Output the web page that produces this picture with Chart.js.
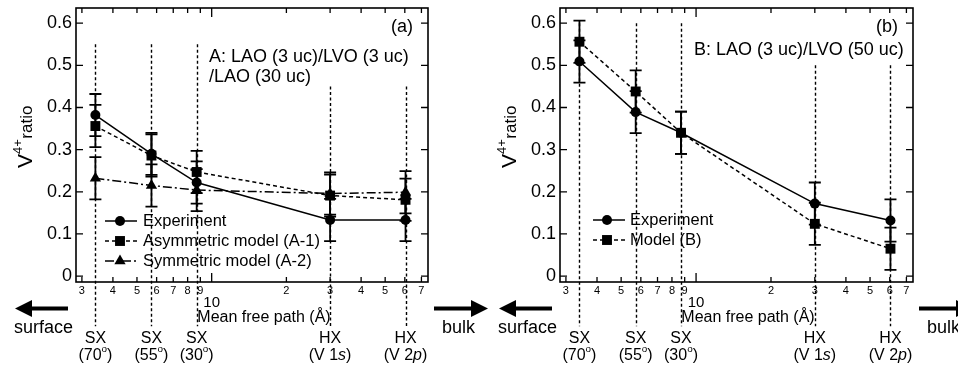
<!DOCTYPE html>
<html><head><meta charset="utf-8">
<script src="https://cdn.jsdelivr.net/npm/chart.js@4.4.0/dist/chart.umd.min.js"></script>
<style>
html,body{margin:0;padding:0;background:#fff;overflow:hidden;width:958px;height:373px;}
#wrap{position:relative;width:958px;height:373px;}
canvas{position:absolute;top:0;}
#ca{left:0}
#cb{left:484px}
</style></head><body>
<div id="wrap"><canvas id="ca" width="500" height="373"></canvas><canvas id="cb" width="474" height="373"></canvas></div>
<script>
// ---------- data ----------
const mfp = [3.4, 5.72, 8.7, 30, 60.4];            // mean free path (Å)
const xTickValues = [3,4,5,6,7,8,9,10,20,30,40,50,60,70];
const xTickLabels = ['3','4','5','6','7','8','9','10','2','3','4','5','6','7'];
const yTickValues = [0,0.1,0.2,0.3,0.4,0.5,0.6];
const probeTop = ['SX','SX','SX','HX','HX'];
const probeBottom = [
  [['(70',''],['o','sup'],[')','']],
  [['(55',''],['o','sup'],[')','']],
  [['(30',''],['o','sup'],[')','']],
  [['(V 1',''],['s','it'],[')','']],
  [['(V 2',''],['p','it'],[')','']]
];
// panel (a)
const expA   = [0.382, 0.290, 0.222, 0.133, 0.133];
const errExpA = [0.05, 0.05, 0.05, 0.05, 0.05];
const asymA  = [0.356, 0.286, 0.247, 0.191, 0.181];
const errAsymA = [0.05, 0.05, 0.05, 0.05, 0.05];
const symA   = [0.232, 0.215, 0.204, 0.196, 0.199];
const errSymA = [0.05, 0.05, 0.05, 0.05, 0.05];
const guideTopA = [0.55, 0.55, 0.55, 0.45, 0.45];
// panel (b)
const expB   = [0.509, 0.389, 0.340, 0.172, 0.132];
const errExpB = [0.05, 0.05, 0.05, 0.05, 0.05];
const modB   = [0.556, 0.438, 0.340, 0.124, 0.065];
const errModB = [0.05, 0.05, 0.05, 0.05, 0.05];
const guideTopB = [0.6, 0.6, 0.6, 0.5, 0.5];
const guideBottom = -0.119;

// ---------- helpers ----------
const FAM = "'Liberation Sans', Arial, Helvetica, sans-serif";
Chart.defaults.font.family = FAM;
Chart.defaults.color = '#000';
function F(size, italic){ return (italic ? 'italic ' : '') + size + 'px ' + FAM; }

function drawSegs(ctx, segs, cx, cy, size){
  let total = 0;
  const parts = segs.map(([t, s]) => {
    const sz = s === 'sup' ? size * 0.62 : size;
    ctx.font = F(sz, s === 'it');
    const w = ctx.measureText(t).width; total += w;
    return {t, s, sz, w};
  });
  let x = cx - total / 2;
  ctx.textAlign = 'left'; ctx.textBaseline = 'middle';
  for (const p of parts){
    ctx.font = F(p.sz, p.s === 'it');
    ctx.fillText(p.t, x, p.s === 'sup' ? cy - size * 0.42 : cy);
    x += p.w;
  }
}

function marker(ctx, style, x, y, r){
  ctx.beginPath();
  if (style === 'circle'){ ctx.arc(x, y, r, 0, Math.PI * 2); }
  else if (style === 'rect'){ const s = r * Math.SQRT1_2; ctx.rect(x - s, y - s, 2 * s, 2 * s); }
  else if (style === 'triangle'){
    for (let k = 0; k < 3; k++){
      const a = k * 2 * Math.PI / 3;
      const px = x + Math.sin(a) * r, py = y - Math.cos(a) * r;
      k ? ctx.lineTo(px, py) : ctx.moveTo(px, py);
    }
    ctx.closePath();
  }
  ctx.fill();
}

function arrow(ctx, tail, tip, y){
  const dir = Math.sign(tip - tail);
  ctx.save();
  ctx.strokeStyle = '#000'; ctx.fillStyle = '#000'; ctx.lineWidth = 4; ctx.setLineDash([]);
  ctx.beginPath(); ctx.moveTo(tail, y); ctx.lineTo(tip - dir * 14, y); ctx.stroke();
  ctx.beginPath(); ctx.moveTo(tip, y); ctx.lineTo(tip - dir * 17, y - 8.5); ctx.lineTo(tip - dir * 17, y + 8.5); ctx.closePath(); ctx.fill();
  ctx.restore();
}

// ---------- plugins ----------
const guides = {
  id: 'guides',
  beforeDatasetsDraw(chart){
    const o = chart.options.plugins.deco; const ctx = chart.ctx;
    const xs = chart.scales.x, ys = chart.scales.y;
    ctx.save(); ctx.strokeStyle = '#000'; ctx.lineWidth = 1.4; ctx.setLineDash([3, 2.5]);
    mfp.forEach((v, i) => {
      const x = Math.round(xs.getPixelForValue(v)) + 0.5;
      ctx.beginPath(); ctx.moveTo(x, ys.getPixelForValue(o.guideTop[i])); ctx.lineTo(x, ys.getPixelForValue(guideBottom)); ctx.stroke();
    });
    ctx.restore();
  }
};

const errorBars = {
  id: 'errorBars',
  afterDatasetsDraw(chart){
    const ctx = chart.ctx; const xs = chart.scales.x, ys = chart.scales.y;
    ctx.save(); ctx.strokeStyle = '#000'; ctx.lineWidth = 1.8; ctx.setLineDash([]);
    chart.data.datasets.forEach(ds => {
      if (!ds.err) return;
      ds.data.forEach((p, j) => {
        const x = xs.getPixelForValue(p.x);
        const y1 = ys.getPixelForValue(p.y - ds.err[j]), y2 = ys.getPixelForValue(p.y + ds.err[j]);
        ctx.beginPath();
        ctx.moveTo(x, y1); ctx.lineTo(x, y2);
        ctx.moveTo(x - 6, y1); ctx.lineTo(x + 6, y1);
        ctx.moveTo(x - 6, y2); ctx.lineTo(x + 6, y2);
        ctx.stroke();
      });
    });
    ctx.restore();
  }
};

const deco = {
  id: 'deco',
  afterDraw(chart, args, o){
    const ctx = chart.ctx; const a = chart.chartArea;
    const xs = chart.scales.x, ys = chart.scales.y;
    ctx.save();
    ctx.fillStyle = '#000'; ctx.strokeStyle = '#000'; ctx.setLineDash([]);
    // frame
    ctx.lineWidth = 1.6;
    ctx.strokeRect(a.left, a.top, a.right - a.left, a.bottom - a.top);
    // ticks (inward)
    ctx.lineWidth = 1.3;
    ctx.beginPath();
    xTickValues.forEach(v => {
      const x = xs.getPixelForValue(v); const len = v === 10 ? 9 : 5;
      ctx.moveTo(x, a.bottom); ctx.lineTo(x, a.bottom - len);
      ctx.moveTo(x, a.top); ctx.lineTo(x, a.top + len);
    });
    yTickValues.forEach(v => {
      const y = ys.getPixelForValue(v);
      ctx.moveTo(a.left, y); ctx.lineTo(a.left + 7, y);
      ctx.moveTo(a.right, y); ctx.lineTo(a.right - 7, y);
    });
    ctx.stroke();

    // y-axis title  V^{4+} ratio
    ctx.save();
    ctx.translate(31.5, 168); ctx.rotate(-Math.PI / 2);
    ctx.textAlign = 'left'; ctx.textBaseline = 'alphabetic';
    ctx.font = F(21); ctx.fillText('V', 0, 0); let w = ctx.measureText('V').width;
    ctx.font = F(13); ctx.fillText('4+', w, -10); w += ctx.measureText('4+').width;
    ctx.font = F(17); ctx.fillText('ratio', w + 0.5, 0);
    ctx.restore();

    // panel label and sample description
    ctx.font = F(18); ctx.textBaseline = 'middle';
    ctx.textAlign = 'right'; ctx.fillText(o.panel, a.right - 15, 27);
    ctx.textAlign = 'left';
    o.title.forEach((t, i) => ctx.fillText(t, a.left + o.titleX, o.titleY + i * 20));

    // legend
    const L = o.legend;
    chart.data.datasets.forEach((ds, i) => {
      const y = L.y0 + i * L.dy;
      ctx.lineWidth = 1.5; ctx.setLineDash(ds.borderDash || []);
      ctx.beginPath(); ctx.moveTo(a.left + L.x0, y); ctx.lineTo(a.left + L.x1, y); ctx.stroke();
      ctx.setLineDash([]);
      marker(ctx, ds.pointStyle, a.left + L.xm, y, ds.pointRadius);
      ctx.font = F(16.5); ctx.textAlign = 'left'; ctx.textBaseline = 'middle';
      ctx.fillText(ds.label, a.left + L.xt, y);
    });

    // x-axis title
    ctx.font = F(16); ctx.textAlign = 'center'; ctx.textBaseline = 'middle';
    ctx.fillText('Mean free path (Å)', a.left + 188, 318);

    // probe labels
    mfp.forEach((v, i) => {
      const x = xs.getPixelForValue(v);
      ctx.font = F(16); ctx.textAlign = 'center'; ctx.textBaseline = 'middle';
      ctx.fillText(probeTop[i], x, 339);
      drawSegs(ctx, probeBottom[i], x, 356, 16);
    });

    // surface / bulk arrows
    arrow(ctx, a.left - 8, a.left - 61, 308.5);
    arrow(ctx, a.right + 6, a.right + 60, 308.5);
    ctx.font = F(18); ctx.textAlign = 'center'; ctx.textBaseline = 'middle';
    ctx.fillText('surface', a.left - 32.5, 328);
    ctx.textAlign = 'left';
    ctx.fillText('bulk', a.right + 14, 328);
    ctx.restore();
  }
};

function ds(label, ys, err, style, dash, radius){
  return {
    label, err,
    data: mfp.map((x, i) => ({x, y: ys[i]})),
    borderColor: '#000', backgroundColor: '#000', borderWidth: 1.5,
    borderDash: dash, pointStyle: style, pointRadius: radius, pointBorderWidth: 0,
    pointBackgroundColor: '#000', tension: 0, fill: false
  };
}

function makeChart(id, datasets, padRight, decoOpts){
  return new Chart(document.getElementById(id), {
    type: 'line',
    data: {datasets},
    options: {
      responsive: false, animation: false, devicePixelRatio: 1,
      layout: {padding: {top: 8, left: 0, right: padRight, bottom: 0}},
      plugins: {legend: {display: false}, tooltip: {enabled: false}, deco: decoOpts},
      scales: {
        x: {
          type: 'logarithmic', min: 2.84, max: 74.4,
          grid: {display: false, drawTicks: false}, border: {display: false},
          afterBuildTicks: s => { s.ticks = xTickValues.map(v => ({value: v})); },
          afterFit: s => { s.height = 91; s.paddingLeft = 0; s.paddingRight = 0; },
          ticks: {
            autoSkip: false, maxRotation: 0, minRotation: 0, padding: 2, color: '#000',
            callback: v => { const i = xTickValues.indexOf(v); return v === 10 ? ['', xTickLabels[i]] : xTickLabels[i]; },
            font: c => (c.tick && c.tick.value === 10) ? {size: 15, lineHeight: 0.85} : {size: 11}
          }
        },
        y: {
          min: -0.014, max: 0.636,
          grid: {display: false, drawTicks: false}, border: {display: false},
          afterBuildTicks: s => { s.ticks = yTickValues.map(v => ({value: v})); },
          afterFit: s => { s.width = 76; s.paddingTop = 0; s.paddingBottom = 0; },
          ticks: {padding: 4, color: '#000', font: {size: 18}, callback: v => String(Math.round(v * 10) / 10)}
        }
      }
    },
    plugins: [guides, errorBars, deco]
  });
}

makeChart('ca', [
  ds('Experiment', expA, errExpA, 'circle', [], 5),
  ds('Asymmetric model (A-1)', asymA, errAsymA, 'rect', [4, 3], 7),
  ds('Symmetric model (A-2)', symA, errSymA, 'triangle', [9, 3, 2, 3], 6.5)
], 72, {
  guideTop: guideTopA, panel: '(a)',
  title: ['A: LAO (3 uc)/LVO (3 uc)', '/LAO (30 uc)'], titleX: 133, titleY: 57,
  legend: {x0: 29, x1: 61, xm: 44, xt: 67, y0: 221, dy: 20}
});

makeChart('cb', [
  ds('Experiment', expB, errExpB, 'circle', [], 5),
  ds('Model (B)', modB, errModB, 'rect', [4, 3], 7)
], 45, {
  guideTop: guideTopB, panel: '(b)',
  title: ['B: LAO (3 uc)/LVO (50 uc)'], titleX: 134, titleY: 50,
  legend: {x0: 33, x1: 65, xm: 47, xt: 70, y0: 220, dy: 20}
});
</script>
</body></html>
